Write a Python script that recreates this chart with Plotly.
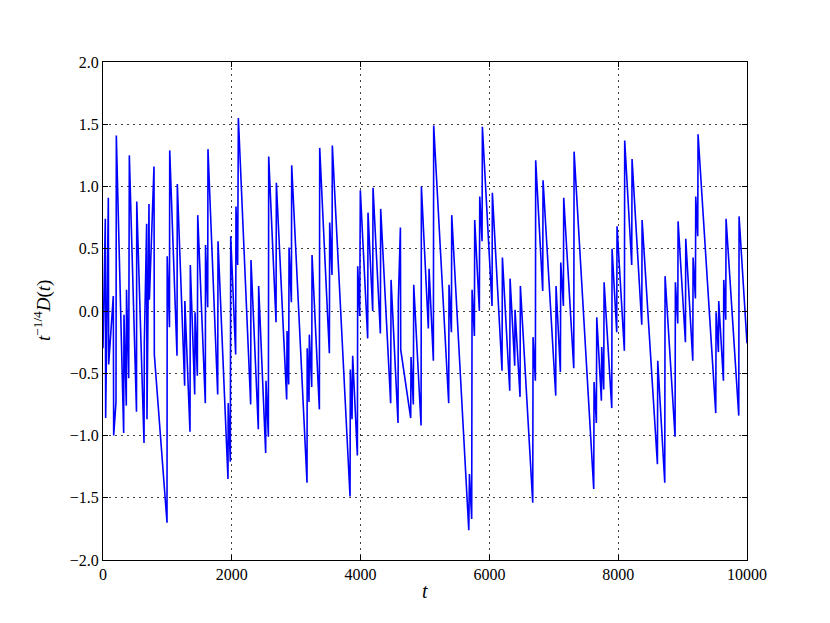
import plotly.graph_objects as go

t = [0, 36, 41, 83, 88, 160, 166, 202, 207, 321, 326, 362, 365, 399, 409, 520, 524, 637, 642, 678, 683, 714, 720, 792, 797, 994, 997, 1032, 1036, 1149, 1154,
     1268, 1271, 1351, 1356, 1424, 1429, 1465, 1471, 1589, 1592, 1626, 1630, 1781, 1786, 1941, 1944, 1977, 1983, 2060, 2065, 2091, 2102, 2293, 2298, 2412, 2417,
     2526, 2531, 2568, 2573, 2687, 2692, 2852, 2858, 2883, 2889, 2925, 2930, 3168, 3171, 3199, 3204, 3241, 3246, 3360, 3365, 3515, 3520, 3556, 3561,
     3836, 3841, 3867, 3877, 3950, 3955, 3986, 3996, 4110, 4115, 4188, 4193, 4307, 4312, 4467, 4473, 4581, 4586, 4618, 4623, 4778, 4783, 4819, 4825, 4939, 4944,
     5052, 5063, 5130, 5135, 5368, 5373, 5410, 5415, 5680, 5690, 5725, 5731, 5767, 5772, 5844, 5850, 5886, 5891, 6041, 6046, 6196, 6202,
     6316, 6321, 6393, 6398, 6476, 6481, 6673, 6678, 6714, 6719, 6828, 6833, 7030, 7035, 7102, 7108, 7149, 7154, 7310, 7315,
     7620, 7625, 7661, 7667, 7739, 7744, 7775, 7781, 7900, 7905, 7977, 7982, 8096, 8101, 8210, 8215, 8366, 8371, 8609, 8614,
     8723, 8728, 8883, 8888, 8925, 8930, 9044, 9049, 9158, 9163, 9199, 9204, 9235, 9240, 9515, 9520, 9556, 9561, 9634, 9639, 9670, 9675, 9872, 9877, 10000]

d = [-0.30, 0.74, -0.86, 0.91, -0.43, 0.12, -1.00, -0.73, 1.41, -0.98, -0.03, -0.76, 0.17, -0.54, 1.25, -0.81, 0.88, -1.06, -0.25, 0.70, -0.87, 0.86, 0.09, 1.16, -0.35, -1.70, 0.44, -0.13, 1.29, -0.36, 1.02,
     -0.60, 0.08, -0.97, 0.37, -0.67, -0.01, -0.52, 0.77, -0.74, 0.53, 0.03, 1.30, -0.67, 0.56, -1.35, -0.74, -1.21, 0.60, -0.35, 0.84, 0.37, 1.55, -0.75, 0.41, -0.95, 0.20,
     -1.14, -0.56, -1.01, 1.24, -0.09, 1.03, -0.71, -0.16, -0.59, 0.51, 0.07, 1.17, -1.38, -0.30, -0.73, -0.19, -0.61, 0.45, -0.79, 1.31, -0.34, 0.71, 0.29, 1.33,
     -1.49, -0.47, -0.87, -0.36, -1.16, 0.36, -0.04, 0.97, -0.22, 0.79, 0.00, 0.99, -0.18, 0.82, -0.74, 0.25, -0.90, 0.08, 0.67, -0.31, -0.86, -0.37, -0.75, 0.21, -0.92, 1.00,
     -0.14, 0.34, -0.40, 1.49, -0.74, 0.21, -0.17, 0.77, -1.76, -1.31, -1.67, 0.17, -0.20, 0.73, 0.00, 0.92, 0.56, 1.48, 0.04, 0.95, -0.48, 0.43,
     -0.64, 0.26, -0.44, 0.01, -0.69, 0.20, -1.54, -0.21, -0.56, 1.21, 0.16, 1.05, -0.68, 0.20, -0.49, 0.39, 0.04, 0.91, -0.46, 1.28,
     -1.43, -0.57, -0.90, -0.05, -0.72, -0.29, -0.63, 0.23, -0.78, 0.50, -0.17, 0.68, -0.32, 1.37, 0.37, 1.22, -0.11, 0.73, -1.23, -0.40,
     -1.38, 0.28, -1.01, 0.23, -0.10, 0.72, -0.25, 0.58, -0.40, 0.43, 0.10, 0.92, 0.60, 1.42, -0.82, -0.01, -0.33, 0.08, -0.56, 0.25, -0.07, 0.74, -0.84, 0.76, -0.26]

x_ticks = [0, 2000, 4000, 6000, 8000, 10000]
x_tick_labels = ["0", "2000", "4000", "6000", "8000", "10000"]
y_ticks = [-2.0, -1.5, -1.0, -0.5, 0.0, 0.5, 1.0, 1.5, 2.0]
y_tick_labels = ["\u22122.0", "\u22121.5", "\u22121.0", "\u22120.5", "0.0", "0.5", "1.0", "1.5", "2.0"]

FONT = "Liberation Serif"

fig = go.Figure()
fig.add_trace(go.Scatter(x=t, y=d, mode="lines", line=dict(color="#0000ff", width=1.6), showlegend=False))

axis_common = dict(
    showline=True, linecolor="black", linewidth=1.2, mirror="allticks",
    ticks="inside", ticklen=5, tickcolor="black", tickwidth=1,
    showgrid=True, gridcolor="rgba(0,0,0,0.75)", gridwidth=1, griddash="1.5px,4.5px",
    zeroline=False, tickfont=dict(family=FONT, size=16, color="black"),
)

fig.update_xaxes(range=[0, 10000], tickvals=x_ticks, ticktext=x_tick_labels, **axis_common)
fig.update_yaxes(range=[-2, 2], tickvals=y_ticks, ticktext=y_tick_labels, **axis_common)

fig.add_annotation(text="<i>t</i>", xref="paper", yref="paper", x=0.5, y=0, yshift=-31,
                   xanchor="center", yanchor="middle", showarrow=False,
                   font=dict(family=FONT, size=20, color="black"))
fig.add_annotation(text="<i>t</i><sup>\u22121/4</sup><i>D</i>(<i>t</i>)", xref="paper", yref="paper",
                   x=-0.0947, y=0.5, xanchor="center", yanchor="middle", textangle=-90, showarrow=False,
                   font=dict(family=FONT, size=19, color="black"))

fig.update_layout(
    width=814, height=607,
    margin=dict(l=95, r=75, t=54, b=55),
    paper_bgcolor="white", plot_bgcolor="white",
)

fig.write_html("out.html")
